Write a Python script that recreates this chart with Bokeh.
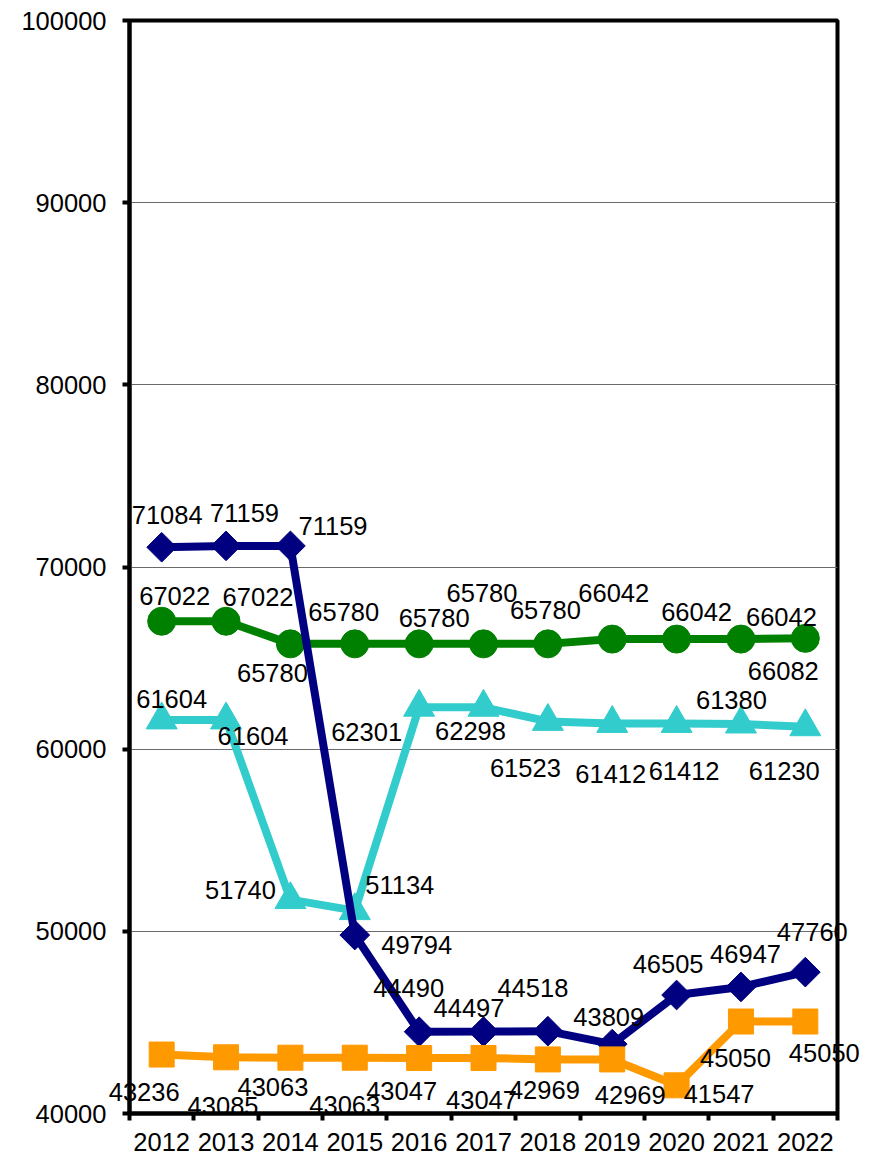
from bokeh.plotting import figure
from bokeh.models import Range1d, FixedTicker, ColumnDataSource, BasicTickFormatter
from bokeh.core.properties import value
from bokeh.embed import file_html
from bokeh.resources import INLINE
import numpy as np

# ---- data ----
years = ["2012", "2013", "2014", "2015", "2016", "2017", "2018", "2019", "2020", "2021", "2022"]
navy_vals = [71084, 71159, 71159, 49794, 44490, 44497, 44518, 43809, 46505, 46947, 47760]
green_vals = [67022, 67022, 65780, 65780, 65780, 65780, 65780, 66042, 66042, 66042, 66082]
cyan_vals = [61604, 61604, 51740, 51134, 62301, 62298, 61523, 61412, 61412, 61380, 61230]
orange_vals = [43236, 43085, 43063, 43063, 43047, 43047, 42969, 42969, 41547, 45050, 45050]
y_ticks = [40000, 50000, 60000, 70000, 80000, 90000, 100000]

# ---- label offsets (screen px; dx right, dy down) ----
navy_off = [(5.5, -32), (18.5, -33), (42.6, -20), (62, 10), (-10.5, -44), (-14.5, -24),
            (-15, -43), (-3.5, -27.5), (-8.5, -31.5), (4.6, -33), (7, -40.5)]
green_off = [(13, -25), (32, -24), (-18, 29), (-11, -32), (15, -26), (-1.5, -51),
             (-2.5, -34), (1.5, -46), (20, -27.5), (40.5, -22.5), (-22, 33)]
cyan_off = [(10, -20.5), (27, 16.5), (-50, -10), (45, -26), (-52.5, 25), (-13, 24),
            (-22.5, 46.5), (-1.5, 51), (7.5, 48), (-9.5, -24.5), (-21, 44)]
orange_off = [(-17.5, 37), (-3, 49), (-17.5, 29), (-10, 47), (-17.5, 33.5), (-2, 42.5),
              (-3.5, 31), (18, 36), (42.5, 9), (-5.5, 36), (19, 31)]

FONT = "Liberation Sans"
FSIZE = "25.5px"

xs = list(range(len(years)))

p = figure(width=868, height=1157, output_backend="svg", toolbar_location=None,
           x_range=Range1d(-0.5, len(years) - 0.5), y_range=Range1d(40000, 100000),
           min_border_left=129, min_border_right=31, min_border_top=20, min_border_bottom=44)
p.background_fill_color = "white"
p.border_fill_color = "white"
p.outline_line_color = "black"
p.outline_line_width = 4
p.outline_line_alpha = 1.0

# x axis
xa = p.xaxis[0]
xa.ticker = FixedTicker(ticks=xs, minor_ticks=[i - 0.5 for i in range(len(years) + 1)])
xa.major_label_overrides = {i: y for i, y in enumerate(years)}
xa.major_tick_out = 0
xa.major_tick_in = 0
xa.minor_tick_out = 7
xa.minor_tick_in = 0
xa.minor_tick_line_width = 4
xa.minor_tick_line_color = "black"
xa.axis_line_width = 4
xa.axis_line_color = "black"
xa.major_label_standoff = 12
xa.major_label_text_font = FONT
xa.major_label_text_font_size = FSIZE
xa.major_label_text_color = "black"

# y axis
ya = p.yaxis[0]
ya.ticker = FixedTicker(ticks=y_ticks, minor_ticks=[])
ya.formatter = BasicTickFormatter(use_scientific=False)
ya.major_tick_out = 7
ya.major_tick_in = 0
ya.major_tick_line_width = 4
ya.major_tick_line_color = "black"
ya.minor_tick_out = 0
ya.minor_tick_in = 0
ya.axis_line_width = 4
ya.axis_line_color = "black"
ya.major_label_standoff = 16
ya.major_label_text_font = FONT
ya.major_label_text_font_size = FSIZE
ya.major_label_text_color = "black"

p.xgrid.visible = False
p.ygrid.grid_line_color = "#6a6a6a"
p.ygrid.grid_line_width = 1

LW = 8

def src(vals, off):
    return ColumnDataSource(dict(
        x=xs, y=vals, t=[str(v) for v in vals],
        dx=[o[0] for o in off], dy=[o[1] for o in off]))

s_cyan = src(cyan_vals, cyan_off)
s_green = src(green_vals, green_off)
s_navy = src(navy_vals, navy_off)
s_orange = src(orange_vals, orange_off)

# cyan (triangles)
p.line("x", "y", source=s_cyan, line_color="#33CCCC", line_width=LW)
p.scatter("x", "y", source=s_cyan, marker="triangle", size=31, fill_color="#33CCCC", line_color="#33CCCC")
# green (circles)
p.line("x", "y", source=s_green, line_color="#008000", line_width=LW)
p.scatter("x", "y", source=s_green, marker="circle", size=28, fill_color="#008000", line_color="#008000")
# navy (diamonds)
p.line("x", "y", source=s_navy, line_color="#000080", line_width=LW)
p.scatter("x", "y", source=s_navy, marker="square", angle=np.pi / 4, size=21,
          fill_color="#000080", line_color="#000080")
# orange (squares)
p.line("x", "y", source=s_orange, line_color="#FF9900", line_width=LW)
p.scatter("x", "y", source=s_orange, marker="square", size=25, fill_color="#FF9900", line_color="#FF9900")

for s in (s_cyan, s_green, s_navy, s_orange):
    r = p.text(x="x", y="y", text="t", source=s, x_offset="dx", y_offset="dy",
               text_align="center", text_baseline="middle",
               text_font=value(FONT), text_font_size=FSIZE, text_color="black")
    r.level = "overlay"

open("out.html", "w").write(file_html(p, INLINE))
